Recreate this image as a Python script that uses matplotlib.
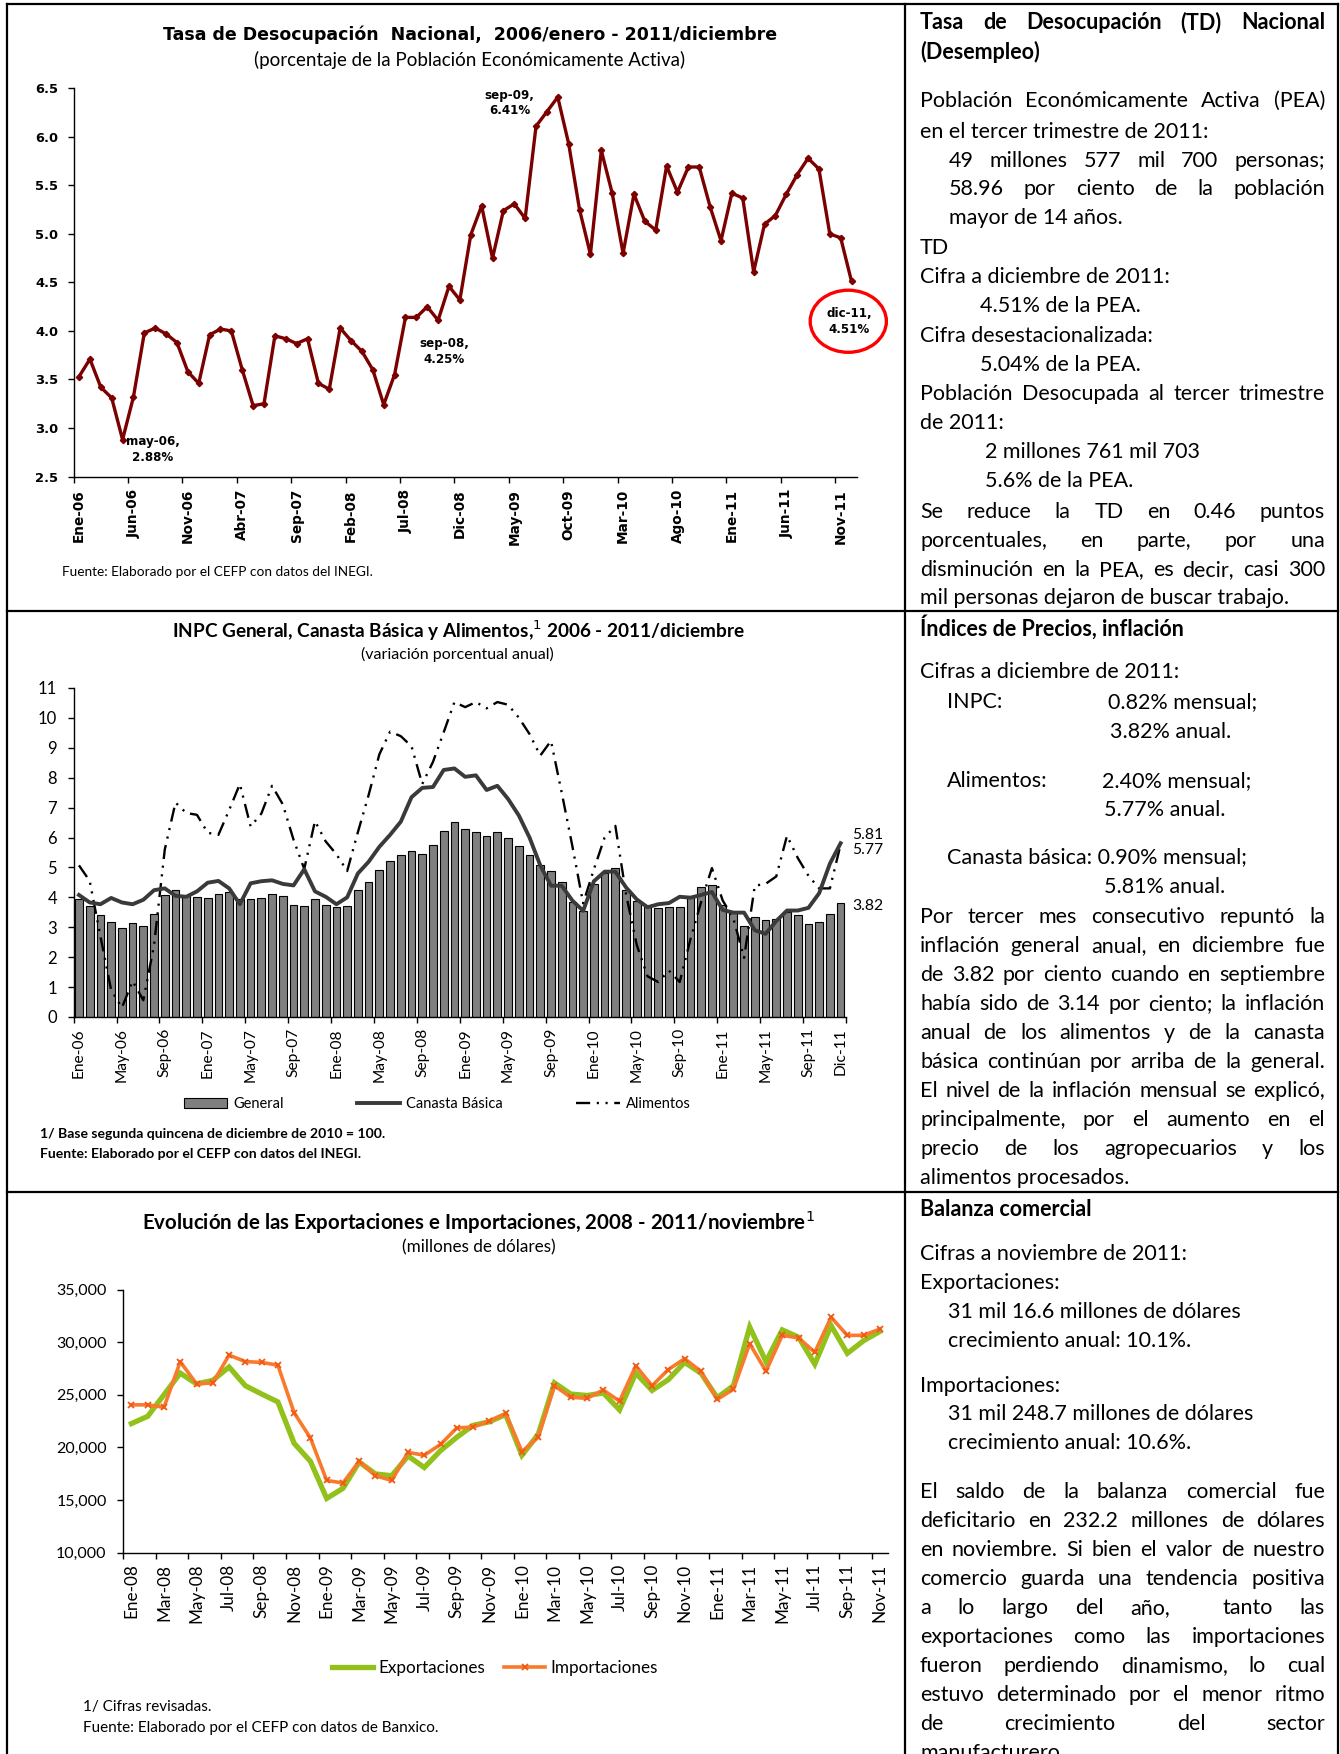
import matplotlib
matplotlib.use('Agg')
import matplotlib.pyplot as plt
import numpy as np
from matplotlib.lines import Line2D
from matplotlib.patches import Patch, Ellipse
from matplotlib.ticker import FuncFormatter, FixedLocator

W, H = 1340, 1754
SANS = 'Lato'
VERD = 'DejaVu Sans'

# ---------------- datos ----------------
# Tasa de desocupación nacional, ene-2006 .. dic-2011
desocupacion = [3.53, 3.71, 3.42, 3.31, 2.88, 3.32, 3.98, 4.03, 3.97, 3.88, 3.58, 3.46,
                3.96, 4.02, 4.00, 3.60, 3.23, 3.25, 3.95, 3.92, 3.87, 3.92, 3.46, 3.40,
                4.03, 3.90, 3.79, 3.60, 3.24, 3.55, 4.14, 4.14, 4.25, 4.11, 4.46, 4.32,
                4.99, 5.29, 4.75, 5.24, 5.31, 5.16, 6.11, 6.26, 6.41, 5.93, 5.25, 4.79,
                5.86, 5.42, 4.80, 5.41, 5.13, 5.04, 5.70, 5.43, 5.69, 5.69, 5.28, 4.93,
                5.42, 5.37, 4.61, 5.10, 5.19, 5.41, 5.61, 5.78, 5.67, 5.00, 4.96, 4.51]
desoc_ticks = ['Ene-06', 'Jun-06', 'Nov-06', 'Abr-07', 'Sep-07', 'Feb-08', 'Jul-08', 'Dic-08',
               'May-09', 'Oct-09', 'Mar-10', 'Ago-10', 'Ene-11', 'Jun-11', 'Nov-11']
desoc_notas = [(4, 'may-06,\n2.88%', (30, -10)), (32, 'sep-08,\n4.25%', (17, -45)),
               (44, 'sep-09,\n6.41%', (-48, -6)), (71, 'dic-11,\n4.51%', (-2, -40))]

# INPC general, canasta básica y alimentos (variación % anual), ene-2006 .. dic-2011
inpc_general = [3.93, 3.71, 3.41, 3.18, 2.97, 3.15, 3.05, 3.45, 4.07, 4.26, 4.05, 4.02,
                3.98, 4.10, 4.18, 3.95, 3.93, 3.97, 4.10, 4.03, 3.75, 3.71, 3.93, 3.76,
                3.67, 3.71, 4.23, 4.52, 4.92, 5.23, 5.40, 5.56, 5.45, 5.75, 6.22, 6.53,
                6.27, 6.18, 6.04, 6.18, 5.97, 5.71, 5.41, 5.07, 4.88, 4.50, 3.86, 3.55,
                4.45, 4.82, 4.97, 4.26, 3.89, 3.67, 3.65, 3.67, 3.68, 4.00, 4.33, 4.40,
                3.75, 3.52, 3.03, 3.33, 3.24, 3.26, 3.52, 3.41, 3.11, 3.19, 3.46, 3.82]
canasta = [4.08, 3.83, 3.77, 3.98, 3.83, 3.77, 3.92, 4.24, 4.30, 4.05, 4.02, 4.20,
           4.49, 4.55, 4.30, 3.77, 4.47, 4.54, 4.57, 4.45, 4.40, 4.94, 4.20, 4.02,
           3.77, 4.00, 4.80, 5.19, 5.69, 6.09, 6.53, 7.35, 7.66, 7.69, 8.26, 8.31,
           8.03, 8.08, 7.59, 7.73, 7.29, 6.74, 6.00, 5.07, 4.39, 4.39, 3.89, 3.55,
           4.54, 4.86, 4.86, 4.33, 3.93, 3.67, 3.77, 3.81, 4.02, 3.99, 4.08, 4.18,
           3.58, 3.49, 3.49, 2.90, 2.78, 3.21, 3.56, 3.56, 3.65, 4.14, 5.13, 5.81]
alimentos = [5.07, 4.55, 2.70, 0.90, 0.31, 1.20, 0.56, 2.40, 5.60, 7.17, 6.82, 6.76,
             6.16, 6.09, 6.92, 7.79, 6.37, 6.80, 7.73, 7.11, 5.93, 4.95, 6.55, 5.87,
             5.44, 4.88, 6.18, 7.42, 8.78, 9.54, 9.39, 9.05, 7.79, 8.53, 9.52, 10.53,
             10.36, 10.53, 10.32, 10.53, 10.44, 10.01, 9.46, 8.74, 9.23, 7.50, 5.70, 3.80,
             4.94, 6.00, 6.39, 4.10, 2.40, 1.36, 1.17, 1.55, 1.17, 2.60, 3.85, 4.98,
             3.90, 3.30, 1.98, 4.39, 4.45, 4.70, 6.06, 5.32, 4.72, 4.30, 4.30, 5.77]
inpc_ticks = ['Ene-06', 'May-06', 'Sep-06', 'Ene-07', 'May-07', 'Sep-07', 'Ene-08', 'May-08',
              'Sep-08', 'Ene-09', 'May-09', 'Sep-09', 'Ene-10', 'May-10', 'Sep-10', 'Ene-11',
              'May-11', 'Sep-11', 'Dic-11']

# Exportaciones e importaciones (millones de dólares), ene-2008 .. nov-2011
exportaciones = [22260, 22950, 25000, 27060, 26030, 26370, 27640, 25860, 25070, 24320, 20380, 18670,
                 15140, 16100, 18600, 17470, 17300, 19180, 18080, 19690, 20960, 22090, 22430, 23120,
                 19250, 21230, 26130, 25070, 24930, 25170, 23560, 27060, 25410, 26440, 28080, 27060,
                 24730, 25860, 31440, 28150, 31170, 30480, 27910, 31580, 28940, 30140, 31017]
importaciones = [24040, 24040, 23800, 28150, 26030, 26130, 28770, 28150, 28080, 27810, 23290, 20890,
                 16850, 16610, 18670, 17300, 16850, 19520, 19250, 20280, 21850, 21920, 22500, 23220,
                 19590, 20960, 25860, 24760, 24660, 25450, 24390, 27740, 25860, 27400, 28430, 27230,
                 24560, 25520, 29860, 27230, 30650, 30410, 29040, 32370, 30650, 30650, 31249]
comercio_ticks = ['Ene-08', 'Mar-08', 'May-08', 'Jul-08', 'Sep-08', 'Nov-08', 'Ene-09', 'Mar-09',
                  'May-09', 'Jul-09', 'Sep-09', 'Nov-09', 'Ene-10', 'Mar-10', 'May-10', 'Jul-10',
                  'Sep-10', 'Nov-10', 'Ene-11', 'Mar-11', 'May-11', 'Jul-11', 'Sep-11', 'Nov-11']


def fx(px):
    return px / W


def fy(py):
    return 1 - py / H


def box(l, t, r, b):
    return [fx(l), fy(b), (r - l) / W, (b - t) / H]


fig = plt.figure(figsize=(13.4, 17.54), dpi=100)
renderer = fig.canvas.get_renderer()

# marcos de la tabla
for xs, ys in [([7, 1338], [4, 4]), ([7, 7], [4, 1754]), ([1338, 1338], [4, 1754]),
               ([905, 905], [4, 1754]), ([7, 1338], [611, 611]), ([7, 1338], [1192, 1192])]:
    fig.add_artist(Line2D([fx(v) for v in xs], [fy(v) for v in ys], color='black', lw=1.6))


def style_axes(ax):
    for s in ['top', 'right']:
        ax.spines[s].set_visible(False)
    for s in ['left', 'bottom']:
        ax.spines[s].set_linewidth(1.0)


# ---------------- gráfica 1: desocupación ----------------
ax1 = fig.add_axes(box(73.6, 88.4, 857, 476.5))
style_axes(ax1)
x1 = np.arange(len(desocupacion))
ax1.plot(x1, desocupacion, color='#7b0000', lw=2.4, marker='D', ms=3.2, mec='#7b0000')
ax1.set_xlim(-0.5, len(desocupacion) - 0.5)
ax1.set_ylim(2.5, 6.5)
ax1.set_yticks(np.arange(2.5, 6.51, 0.5))
ax1.yaxis.set_major_formatter(FuncFormatter(lambda v, p: f'{v:.1f}'))
ax1.tick_params(axis='y', direction='out', length=4, width=1, pad=7, labelsize=9.4)
ax1.set_xticks(np.arange(0, len(desocupacion), 5))
ax1.set_xticklabels(desoc_ticks, rotation=90)
ax1.xaxis.set_minor_locator(FixedLocator(np.arange(-0.5, len(desocupacion), 5)))
ax1.tick_params(axis='x', which='major', length=0, pad=9, labelsize=9.8)
ax1.tick_params(axis='x', which='minor', direction='out', length=4, width=1)
for lab in ax1.get_xticklabels() + ax1.get_yticklabels():
    lab.set_family(VERD)
    lab.set_fontweight('bold')
for i, txt, off in desoc_notas:
    ax1.annotate(txt, xy=(i, desocupacion[i]), xytext=off, textcoords='offset pixels',
                 ha='center', va='center', fontsize=8.6, fontweight='bold', family=VERD,
                 linespacing=1.25)
ax1.add_patch(Ellipse((70.7, 4.10), 7.0, 0.64, fill=False, ec='#ff0000', lw=2.4, clip_on=False))

fig.text(fx(470), fy(34.7), 'Tasa de Desocupación  Nacional,  2006/enero - 2011/diciembre',
         ha='center', va='center', fontsize=12.5, fontweight='bold', family=VERD)
fig.text(fx(470), fy(60.4), '(porcentaje de la Población Económicamente Activa)',
         ha='center', va='center', fontsize=13.5, family=SANS)
fig.text(fx(62), fy(571.6), 'Fuente: Elaborado por el CEFP con datos del INEGI.',
         ha='left', va='center', fontsize=9.8, family=SANS)

# ---------------- gráfica 2: INPC ----------------
ax2 = fig.add_axes(box(73.6, 688, 846, 1017))
style_axes(ax2)
x2 = np.arange(len(inpc_general))
ax2.bar(x2, inpc_general, width=0.72, color='#7f7f7f', edgecolor='black', linewidth=0.8, zorder=1)
dash = (0, (6, 2.8, 0.9, 2.8, 0.9, 2.8))
ax2.plot(x2, alimentos, color='black', lw=1.7, linestyle=dash, zorder=2)
ax2.plot(x2, canasta, color='#3a3a3a', lw=2.8, zorder=3, solid_joinstyle='round')
ax2.set_xlim(-0.5, len(inpc_general) - 0.5)
ax2.set_ylim(0, 11)
ax2.set_yticks(np.arange(0, 12, 1))
ax2.tick_params(axis='y', direction='out', length=4, width=1, pad=8, labelsize=12)
pos2 = list(np.arange(0, len(inpc_general) - 3, 4)) + [len(inpc_general) - 1]
ax2.set_xticks(pos2)
ax2.set_xticklabels(inpc_ticks, rotation=90)
ax2.xaxis.set_minor_locator(FixedLocator(list(np.arange(-0.5, len(inpc_general) - 3, 4)) +
                                         [len(inpc_general) - 0.5]))
ax2.tick_params(axis='x', which='major', length=0, pad=8, labelsize=11.2)
ax2.tick_params(axis='x', which='minor', direction='out', length=4, width=1)
for lab in ax2.get_xticklabels() + ax2.get_yticklabels():
    lab.set_family(SANS)
last = len(inpc_general) - 1
for val, off in [(canasta[last], (12, 8)), (alimentos[last], (12, -6)), (inpc_general[last], (12, -3))]:
    ax2.annotate(f'{val:.2f}', xy=(last, val), xytext=off, textcoords='offset pixels',
                 ha='left', va='center', fontsize=11.3, family=SANS, annotation_clip=False)

fig.text(fx(458), fy(631), 'INPC General, Canasta Básica y Alimentos,$^{1}$ 2006 - 2011/diciembre',
         ha='center', va='center', fontsize=13.7, fontweight='bold', family=SANS)
fig.text(fx(457), fy(654), '(variación porcentual anual)', ha='center', va='center',
         fontsize=11.5, family=SANS)
leg2 = [Patch(facecolor='#7f7f7f', edgecolor='black', lw=0.8),
        Line2D([], [], color='#3a3a3a', lw=2.8),
        Line2D([], [], color='black', lw=1.7, linestyle=dash)]
fig.legend(leg2, ['General', 'Canasta Básica', 'Alimentos'], loc='center',
           bbox_to_anchor=(fx(437), fy(1104)), ncol=3, frameon=False,
           prop={'family': SANS, 'size': 10.5}, handlelength=3.0, columnspacing=5.0,
           handletextpad=0.4)
fig.text(fx(40), fy(1134), '1/ Base segunda quincena de diciembre de 2010 = 100.',
         ha='left', va='center', fontsize=10.1, fontweight='bold', family=SANS)
fig.text(fx(40), fy(1154), 'Fuente: Elaborado por el CEFP con datos del INEGI.',
         ha='left', va='center', fontsize=10.1, fontweight='bold', family=SANS)

# ---------------- gráfica 3: comercio exterior ----------------
ax3 = fig.add_axes(box(123.3, 1289.6, 888, 1552.5))
style_axes(ax3)
x3 = np.arange(len(exportaciones))
ax3.plot(x3, exportaciones, color='#92c11c', lw=3.8, solid_joinstyle='miter', zorder=2)
ax3.plot(x3, importaciones, color='#f97a2c', lw=2.6, marker='x', ms=5, mew=1.3,
         mec='#f05a14', zorder=3)
ax3.set_xlim(-0.5, len(exportaciones) - 0.5)
ax3.set_ylim(10000, 35000)
ax3.set_yticks(np.arange(10000, 35001, 5000))
ax3.yaxis.set_major_formatter(FuncFormatter(lambda v, p: f'{v:,.0f}'))
ax3.tick_params(axis='y', direction='out', length=4, width=1, pad=8, labelsize=11.5)
ax3.set_xticks(np.arange(0, len(exportaciones), 2))
ax3.set_xticklabels(comercio_ticks, rotation=90)
ax3.xaxis.set_minor_locator(FixedLocator(np.arange(-0.5, len(exportaciones) - 1, 2)))
ax3.tick_params(axis='x', which='major', length=0, pad=8, labelsize=12.3)
ax3.tick_params(axis='x', which='minor', direction='out', length=4, width=1)
for lab in ax3.get_xticklabels() + ax3.get_yticklabels():
    lab.set_family(SANS)

fig.text(fx(478), fy(1222.5), 'Evolución de las Exportaciones e Importaciones, 2008 - 2011/noviembre$^{1}$',
         ha='center', va='center', fontsize=14.8, fontweight='bold', family=SANS)
fig.text(fx(479), fy(1247), '(millones de dólares)', ha='center', va='center',
         fontsize=12.3, family=SANS)
leg3 = [Line2D([], [], color='#92c11c', lw=3.8),
        Line2D([], [], color='#f97a2c', lw=2.6, marker='x', ms=5, mew=1.3, mec='#f05a14')]
fig.legend(leg3, ['Exportaciones', 'Importaciones'], loc='center',
           bbox_to_anchor=(fx(495), fy(1667.7)), ncol=2, frameon=False,
           prop={'family': SANS, 'size': 12.3}, handlelength=2.4, columnspacing=1.1,
           handletextpad=0.3)
fig.text(fx(83), fy(1707), '1/ Cifras revisadas.', ha='left', va='center',
         fontsize=11, family=SANS)
fig.text(fx(83), fy(1728), 'Fuente: Elaborado por el CEFP con datos de Banxico.',
         ha='left', va='center', fontsize=11, family=SANS)

# ---------------- textos de la columna derecha ----------------
TXT = 15.5
X0, X1 = 920, 1325


def put(s, y, x=X0, bold=False, justify=False):
    weight = 'bold' if bold else 'normal'
    if not justify:
        fig.text(fx(x), fy(y), s, fontsize=TXT, fontweight=weight, family=SANS,
                 ha='left', va='baseline')
        return
    words = s.split(' ')
    arts, widths = [], []
    for w in words:
        t = fig.text(0, 0, w, fontsize=TXT, fontweight=weight, family=SANS,
                     ha='left', va='baseline')
        widths.append(t.get_window_extent(renderer).width if w else 0.0)
        arts.append(t)
    gap = max((X1 - x - sum(widths)) / (len(words) - 1), 3.0)
    cx = x
    for t, wd in zip(arts, widths):
        t.set_position((fx(cx), fy(y)))
        cx += wd + gap


put('Tasa de Desocupación (TD) Nacional', 29, bold=True, justify=True)
put('(Desempleo)', 59, bold=True)
put('Población Económicamente Activa (PEA)', 107, justify=True)
put('en el tercer trimestre de 2011:', 138)
put('49 millones 577 mil 700 personas;', 167, x=949, justify=True)
put('58.96 por ciento de la población', 195, x=949, justify=True)
put('mayor de 14 años.', 224, x=949)
put('TD', 254)
put('Cifra a diciembre de 2011:', 283)
put('4.51% de la PEA.', 312, x=980)
put('Cifra desestacionalizada:', 342)
put('5.04% de la PEA.', 371, x=980)
put('Población Desocupada al tercer trimestre', 400, justify=True)
put('de 2011:', 429)
put('2 millones 761 mil 703', 458, x=985)
put('5.6% de la PEA.', 487, x=985)
put('Se reduce la TD en 0.46 puntos', 518, justify=True)
put('porcentuales, en parte, por una', 547, justify=True)
put('disminución en la PEA, es decir, casi 300', 576, justify=True)
put('mil personas dejaron de buscar trabajo.', 604)

put('Índices de Precios, inflación', 636, bold=True)
put('Cifras a diciembre de 2011:', 678)
put('INPC:', 708, x=947)
put('0.82% mensual;', 708, x=1108)
put('3.82% anual.', 738, x=1110)
put('Alimentos:', 787, x=947)
put('2.40% mensual;', 787, x=1102)
put('5.77% anual.', 816, x=1104)
put('Canasta básica: 0.90% mensual;', 863, x=947)
put('5.81% anual.', 893, x=1104)
parrafo2 = ['Por tercer mes consecutivo repuntó la',
            'inflación general anual, en diciembre fue',
            'de 3.82 por ciento cuando en septiembre',
            'había sido de 3.14 por ciento; la inflación',
            'anual de los alimentos y de la canasta',
            'básica continúan por arriba de la general.',
            'El nivel de la inflación mensual se explicó,',
            'principalmente, por el aumento en el',
            'precio de los agropecuarios y los',
            'alimentos procesados.']
for k, s in enumerate(parrafo2):
    put(s, 923 + 29 * k, justify=(k < len(parrafo2) - 1))

put('Balanza comercial', 1216, bold=True)
put('Cifras a noviembre de 2011:', 1260)
put('Exportaciones:', 1289)
put('31 mil 16.6 millones de dólares', 1318, x=948)
put('crecimiento anual: 10.1%.', 1347, x=948)
put('Importaciones:', 1392)
put('31 mil 248.7 millones de dólares', 1420, x=948)
put('crecimiento anual: 10.6%.', 1449, x=948)
parrafo3 = ['El saldo de la balanza comercial fue',
            'deficitario en 232.2 millones de dólares',
            'en noviembre. Si bien el valor de nuestro',
            'comercio guarda una tendencia positiva',
            'a lo largo del año,  tanto las',
            'exportaciones como las importaciones',
            'fueron perdiendo dinamismo, lo cual',
            'estuvo determinado por el menor ritmo',
            'de crecimiento del sector',
            'manufacturero.']
for k, s in enumerate(parrafo3):
    put(s, 1498 + 29 * k, justify=(k < len(parrafo3) - 1))

fig.savefig('out.png', dpi=100)
